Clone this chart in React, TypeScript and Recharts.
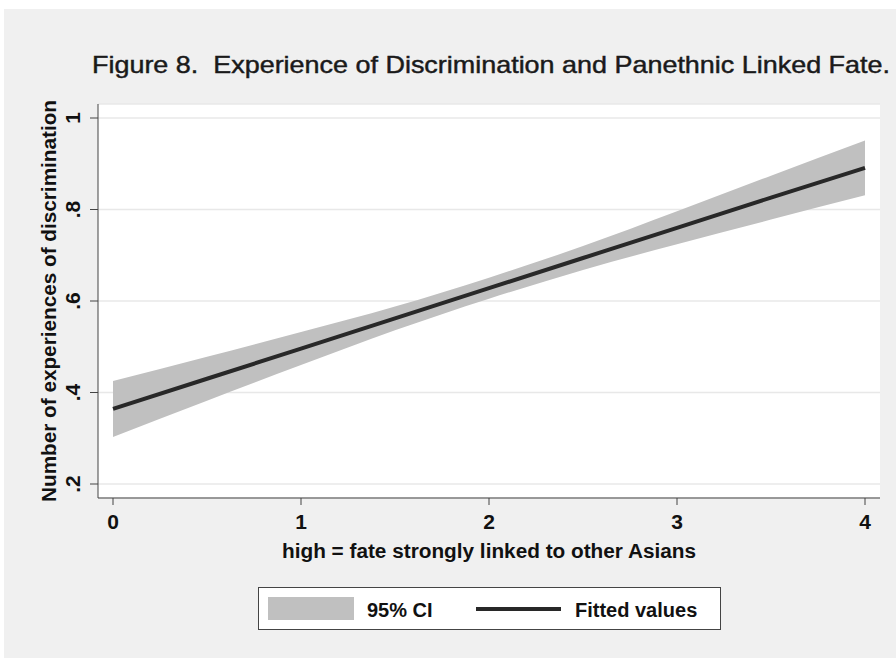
import React from "react";
import { ComposedChart, Area, Line, XAxis, YAxis, CartesianGrid } from "recharts";

// x values (linked fate scale)
const xValues = [0, 0.5, 1, 1.5, 2, 2.5, 3, 3.5, 4];
// fitted values
const fittedValues = [0.364, 0.43, 0.496, 0.562, 0.628, 0.694, 0.76, 0.826, 0.891];
// 95% CI bounds
const ciLower = [0.303, 0.382, 0.46, 0.536, 0.605, 0.668, 0.724, 0.778, 0.831];
const ciUpper = [0.425, 0.478, 0.532, 0.588, 0.651, 0.72, 0.796, 0.874, 0.951];

const xTicks = [0, 1, 2, 3, 4];
const yTicks = [0.2, 0.4, 0.6, 0.8, 1];
const yTickLabels = [".2", ".4", ".6", ".8", "1"];

const titleText = "Figure 8.  Experience of Discrimination and Panethnic Linked Fate.";
const xTitle = "high = fate strongly linked to other Asians";
const yTitle = "Number of experiences of discrimination";
const legendLabels = ["95% CI", "Fitted values"];

const data = xValues.map((x, i) => ({
  x,
  fit: fittedValues[i],
  ci: [ciLower[i], ciUpper[i]],
}));

const FONT = "'Liberation Sans', Arial, Helvetica, sans-serif";
const TXT = "#111";
const BAND = "#c0c0c0";
const LINE = "#282828";

const XTick = (p: any) => (
  <text
    x={p.x}
    y={p.y + 24}
    textAnchor="middle"
    fontFamily={FONT}
    fontSize={21}
    fontWeight="bold"
    fill={TXT}
  >
    {p.payload.value}
  </text>
);

const YTick = (p: any) => {
  const bx = p.x - 10;
  const idx = yTicks.findIndex((t) => Math.abs(t - p.payload.value) < 1e-9);
  return (
    <text
      x={bx}
      y={p.y}
      transform={`rotate(-90, ${bx}, ${p.y})`}
      textAnchor="middle"
      fontFamily={FONT}
      fontSize={21}
      fontWeight="bold"
      fill={TXT}
    >
      {idx >= 0 ? yTickLabels[idx] : p.payload.value}
    </text>
  );
};

const YLabel = (p: any) => {
  const vb = p.viewBox || { x: 0, y: 0, width: 0, height: 0 };
  const cx = 56;
  const cy = vb.y + vb.height / 2;
  return (
    <text
      x={cx}
      y={cy}
      transform={`rotate(-90, ${cx}, ${cy})`}
      textAnchor="middle"
      fontFamily={FONT}
      fontSize={20}
      fontWeight="bold"
      fill={TXT}
      textLength={402}
      lengthAdjust="spacingAndGlyphs"
    >
      {yTitle}
    </text>
  );
};

const XLabel = (p: any) => {
  const vb = p.viewBox || { x: 0, y: 0, width: 0, height: 0 };
  return (
    <text
      x={vb.x + vb.width / 2}
      y={558}
      textAnchor="middle"
      fontFamily={FONT}
      fontSize={20}
      fontWeight="bold"
      fill={TXT}
      textLength={414}
      lengthAdjust="spacingAndGlyphs"
    >
      {xTitle}
    </text>
  );
};

export default function App() {
  return (
    <div style={{ position: "absolute", left: 0, top: 0, width: 896, height: 659, background: "#fff" }}>
      <div style={{ position: "absolute", left: 4, top: 9, width: 892, height: 649, background: "#f0f0f0" }} />
      <div style={{ position: "absolute", left: 0, top: 0 }}>
        <ComposedChart
          width={896}
          height={659}
          data={data}
          margin={{ top: 104, right: 16, bottom: 121, left: 0 }}
        >
          <CartesianGrid vertical={false} stroke="#e8e8e8" strokeWidth={1.5} fill="#ffffff" />
          <XAxis
            type="number"
            dataKey="x"
            domain={[0, 4]}
            ticks={xTicks}
            padding={{ left: 15, right: 15 }}
            height={40}
            tickSize={7}
            tickMargin={0}
            stroke="#444"
            tickLine={{ stroke: "#444" }}
            tick={<XTick />}
            label={<XLabel />}
            interval={0}
          />
          <YAxis
            type="number"
            domain={[0.2, 1]}
            ticks={yTicks}
            padding={{ top: 14, bottom: 14 }}
            width={98}
            tickSize={8}
            tickMargin={0}
            stroke="#444"
            tickLine={{ stroke: "#444" }}
            tick={<YTick />}
            label={<YLabel />}
            interval={0}
          />
          <Area
            dataKey="ci"
            type="monotone"
            fill={BAND}
            fillOpacity={1}
            stroke="none"
            isAnimationActive={false}
            activeDot={false}
          />
          <Line
            dataKey="fit"
            type="linear"
            stroke={LINE}
            strokeWidth={4}
            dot={false}
            activeDot={false}
            isAnimationActive={false}
          />
        </ComposedChart>
      </div>
      <svg
        width={896}
        height={659}
        style={{ position: "absolute", left: 0, top: 0, pointerEvents: "none" }}
      >
        <text
          x={92}
          y={73}
          fontFamily={FONT}
          fontSize={24}
          fill="#1a1a1a"
          stroke="#1a1a1a"
          strokeWidth={0.45}
          textLength={798}
          lengthAdjust="spacingAndGlyphs"
          style={{ whiteSpace: "pre" }}
        >
          {titleText}
        </text>
        <rect x={258.5} y={587.5} width={462} height={42} fill="#fff" stroke="#444" strokeWidth={1} />
        <rect x={268} y={597} width={86} height={23} fill={BAND} />
        <text x={367} y={617} fontFamily={FONT} fontSize={20} fontWeight="bold" fill={TXT}>
          {legendLabels[0]}
        </text>
        <line x1={476} y1={609} x2={561} y2={609} stroke={LINE} strokeWidth={4} />
        <text x={575} y={617} fontFamily={FONT} fontSize={20} fontWeight="bold" fill={TXT}>
          {legendLabels[1]}
        </text>
      </svg>
    </div>
  );
}
